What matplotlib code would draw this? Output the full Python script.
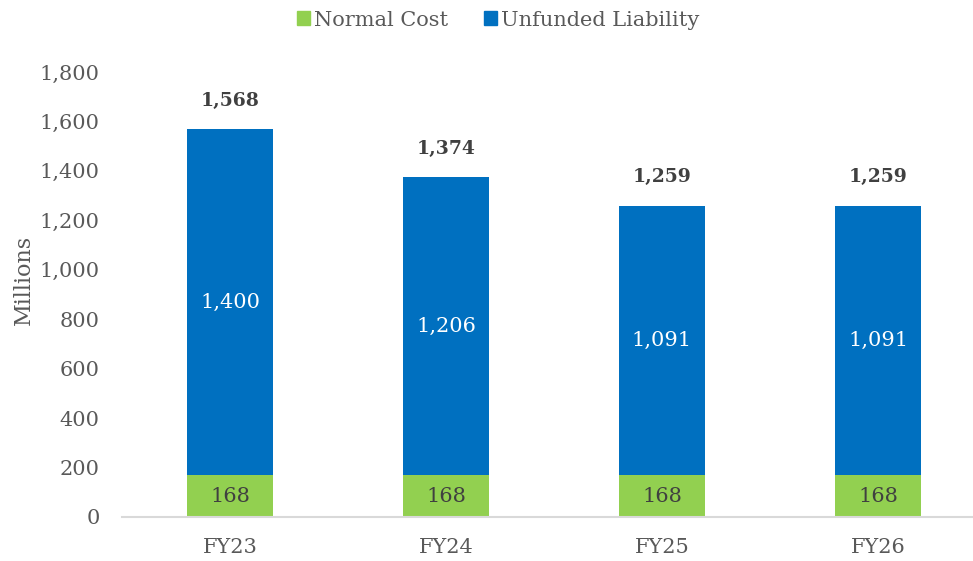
import matplotlib
matplotlib.use("Agg")
import matplotlib.pyplot as plt
from matplotlib.patches import Patch
import numpy as np

categories = ["FY23", "FY24", "FY25", "FY26"]
normal_cost = [168, 168, 168, 168]
unfunded_liability = [1400, 1206, 1091, 1091]
y_ticks = [0, 200, 400, 600, 800, 1000, 1200, 1400, 1600, 1800]

GREEN = "#92D050"
BLUE = "#0070C0"
TXT = "#595959"
DARK = "#404040"

plt.rcParams["font.family"] = ["DejaVu Serif"]

W, H = 973, 561
fig = plt.figure(figsize=(W / 100, H / 100), dpi=100)
ax = fig.add_axes([122 / W, 44 / H, 864 / W, 445 / H])

x = np.arange(len(categories))
nc = np.array(normal_cost)
ul = np.array(unfunded_liability)
tot = nc + ul
bw = 0.4
FS = 15
ax.bar(x, nc, bw, color=GREEN, zorder=2)
ax.bar(x, ul, bw, bottom=nc, color=BLUE, zorder=2)

for i in range(len(x)):
    ax.text(x[i], nc[i] / 2, f"{nc[i]:,}", ha="center", va="center",
            fontsize=FS, color=DARK)
    ax.text(x[i], nc[i] + ul[i] / 2, f"{ul[i]:,}", ha="center", va="center",
            fontsize=FS, color="white")
    ax.annotate(f"{tot[i]:,}", (x[i], tot[i]), xytext=(0, 17),
                textcoords="offset points", ha="center", va="baseline",
                fontsize=13.5, fontweight="bold", color=DARK)

ax.set_xlim(-0.5, 3.5)
ax.set_ylim(0, 1800)
ax.set_yticks(y_ticks)
ax.set_yticklabels([f"{v:,}" for v in y_ticks])
ax.set_xticks(x)
ax.set_xticklabels(categories)
ax.tick_params(axis="both", length=0, labelsize=FS, labelcolor=TXT)
ax.tick_params(axis="y", pad=16)
ax.tick_params(axis="x", pad=15)
for s in ["top", "right", "left"]:
    ax.spines[s].set_visible(False)
ax.spines["bottom"].set_color("#D9D9D9")
ax.spines["bottom"].set_linewidth(1.5)
ax.set_ylabel("Millions", fontsize=16, color=TXT)
ax.yaxis.set_label_coords(-0.101, 0.533)

handles = [Patch(color=GREEN, label="Normal Cost"),
           Patch(color=BLUE, label="Unfunded Liability")]
fig.legend(handles=handles, loc="center", bbox_to_anchor=(498 / W, 1 - 20 / H),
           ncol=2, frameon=False, fontsize=FS, handlelength=0.63, handleheight=0.63,
           handletextpad=0.2, columnspacing=1.7, labelcolor=TXT)

fig.savefig("out.png", dpi=100)
